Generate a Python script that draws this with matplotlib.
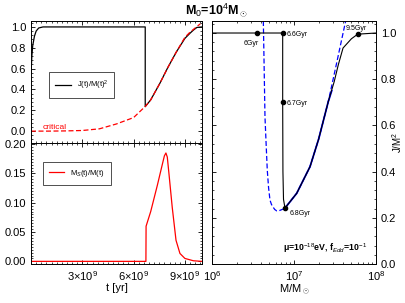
import numpy as np
import matplotlib
matplotlib.use('Agg')
import matplotlib.pyplot as plt
from matplotlib.ticker import AutoMinorLocator, FixedLocator, FixedFormatter, MultipleLocator

plt.rcParams['font.family'] = ['Liberation Sans', 'DejaVu Sans']
plt.rcParams['mathtext.fontset'] = 'custom'
plt.rcParams['mathtext.rm'] = 'Liberation Sans'
plt.rcParams['mathtext.it'] = 'Liberation Sans:italic'
plt.rcParams['mathtext.bf'] = 'Liberation Sans:bold'

# --- left top: J(t)/M(t)^2 and critical curve vs time (units of 1e9 yr)
t_J = [0, 0.05, 0.1, 0.2, 0.3, 0.45, 0.7, 6.68, 6.68, 7.0, 7.54, 8.0, 8.5, 9.0, 9.3, 9.5, 9.7, 10.0]
J_t = [0.55, 0.72, 0.82, 0.91, 0.96, 0.99, 1.0, 1.0, 0.235, 0.3, 0.46, 0.61, 0.76, 0.89, 0.94, 0.97, 0.995, 1.0]

t_crit = [0, 1, 2, 3, 4, 5, 6, 6.68, 7.0, 7.54, 8.0, 8.5, 9.0, 9.3, 9.6, 9.9]
J_crit = [0.0, 0.0, 0.002, 0.006, 0.022, 0.069, 0.13, 0.237, 0.3, 0.46, 0.61, 0.76, 0.9, 0.95, 0.99, 1.03]

# --- left bottom: Ms(t)/M(t)
t_Ms = [0, 6.72, 6.73, 7.0, 7.39, 7.7, 7.8, 7.89, 7.97, 8.07, 8.26, 8.48, 8.71, 9.0, 9.5, 10.0]
Ms = [0, 0, 0.06, 0.085, 0.13, 0.168, 0.18, 0.185, 0.178, 0.149, 0.092, 0.036, 0.0135, 0.005, 0.001, 0.0]

# --- right: trajectory in (M, J/M^2) plane, log10 of mass
logM_crit = [6.626, 6.636, 6.646, 6.660, 6.674, 6.690, 6.707, 6.725, 6.744, 6.765, 6.789,
             6.82, 6.862, 6.89, 7.033, 7.195, 7.30, 7.418, 7.52, 7.63]
Jc = [1.052, 0.85, 0.638, 0.52, 0.407, 0.33, 0.277, 0.258, 0.247, 0.236, 0.230,
      0.231, 0.237, 0.242, 0.306, 0.421, 0.54, 0.703, 0.87, 1.052]
logM_on = [6.89, 7.033, 7.195, 7.30, 7.418, 7.46]
J_on = [0.242, 0.306, 0.421, 0.54, 0.703, 0.75]

logM_traj = [6.0, 6.862, 6.862, 6.865, 6.872, 6.89, 7.033, 7.195, 7.30, 7.418, 7.49, 7.54,
             7.598, 7.70, 7.777, 8.0]
J_traj = [1.0, 1.0, 0.70, 0.40, 0.28, 0.242, 0.306, 0.421, 0.54, 0.703, 0.789, 0.862,
          0.935, 0.975, 0.995, 1.0]

mark_logM = [6.545, 6.862, 6.862, 6.89, 7.777]
mark_J = [1.0, 1.0, 0.70, 0.241, 0.995]
mark_lab = ['6Gyr', '6.6Gyr', '6.7Gyr', '6.8Gyr', '9.5Gyr']

fig = plt.figure(figsize=(4.05, 3.03), dpi=100)
ax1 = fig.add_axes([31/405, 1-143/303, 171/405, 122/303])
ax2 = fig.add_axes([31/405, 1-264/303, 171/405, 121/303])
ax3 = fig.add_axes([212/405, 1-264/303, 164/405, 243/303])

def style(ax):
    ax.tick_params(which='both', direction='in', top=True, right=True, labelsize=8)
    ax.tick_params(which='major', length=3, width=0.6)
    ax.tick_params(which='minor', length=1.5, width=0.5)
    for s in ax.spines.values():
        s.set_linewidth(0.7)

t1 = np.array(t_J) * 1e9
ax1.plot(t1, J_t, color='black', lw=0.9, label='J(t)/M(t)$^2$')
ax1.plot(np.array(t_crit) * 1e9, J_crit, color='red', lw=0.9, ls=(0, (4, 2)))
ax1.text(0.7e9, 0.02, 'critical', color='red', fontsize=6)
ax1.set_xlim(0, 1e10)
ax1.set_ylim(-0.114, 1.057)
ax1.yaxis.set_major_locator(MultipleLocator(0.2))
ax1.yaxis.set_minor_locator(AutoMinorLocator(5))
ax1.xaxis.set_major_locator(MultipleLocator(3e9))
ax1.xaxis.set_minor_locator(MultipleLocator(3e8))
ax1.set_xticklabels([])
style(ax1)
leg = ax1.legend(loc='upper left', bbox_to_anchor=(0.085, 0.61), fontsize=5.5, frameon=True,
                 fancybox=False, edgecolor='black', handlelength=2.0, borderpad=0.8)
leg.get_frame().set_linewidth(0.6)

ax2.plot(np.array(t_Ms) * 1e9, Ms, color='red', lw=0.9, label='M$_S$(t)/M(t)')
ax2.set_xlim(0, 1e10)
ax2.set_ylim(-0.0045, 0.202)
ax2.yaxis.set_major_locator(MultipleLocator(0.05))
ax2.yaxis.set_minor_locator(AutoMinorLocator(10))
ax2.xaxis.set_major_locator(FixedLocator([3e9, 6e9, 9e9]))
ax2.xaxis.set_major_formatter(FixedFormatter(['3×10$^9$', '6×10$^9$', '9×10$^9$']))
ax2.xaxis.set_minor_locator(MultipleLocator(3e8))
ax2.set_xlabel('t [yr]', fontsize=8, labelpad=0)
style(ax2)
leg2 = ax2.legend(loc='upper left', bbox_to_anchor=(0.045, 0.875), fontsize=5.5, frameon=True,
                  fancybox=False, edgecolor='black', handlelength=2.0, borderpad=0.8)
leg2.get_frame().set_linewidth(0.6)

M_c = 10 ** np.array(logM_crit)
ax3.plot(M_c, Jc, color='blue', lw=0.9, ls=(0, (4, 2)))
ax3.plot(10 ** np.array(logM_on), J_on, color='blue', lw=1.3)
ax3.plot(10 ** np.array(logM_traj), J_traj, color='black', lw=0.8)
mM = 10 ** np.array(mark_logM)
ax3.plot(mM, mark_J, 'o', color='black', ms=3)
offs = [(-9.5, -8.5), (3, -2), (3, -2), (3, -5), (-8.5, 2.7)]
for x, y, lab, o in zip(mM, mark_J, mark_lab, offs):
    ax3.annotate(lab, (x, y), xytext=o, textcoords='offset points', fontsize=5)
ax3.set_xscale('log')
ax3.set_xlim(1e6, 1e8)
ax3.set_ylim(0, 1.052)
ax3.yaxis.set_major_locator(MultipleLocator(0.2))
ax3.yaxis.set_minor_locator(AutoMinorLocator(5))
ax3.yaxis.tick_right()
ax3.yaxis.set_label_position('right')
ax3.set_ylabel('J/M$^2$', fontsize=7)
ax3.yaxis.set_label_coords(1.085, 0.5)
ax3.set_xlabel('M/M$_\\odot$', fontsize=8, labelpad=0)
style(ax3)
ax3.tick_params(axis='y', which='both', left=True, labelleft=False, labelright=True)
ax3.text(0.43, 0.055, '$\\mathbf{\\mu}$=10$^{-18}$eV, f$_{Edd}$=10$^{-1}$', transform=ax3.transAxes,
         fontsize=6.3, fontweight='bold')

fig.text(0.533, 0.967, 'M$_0$=10$^4$M$_\\odot$', ha='center', va='center', fontsize=9,
         fontweight='bold')

fig.savefig('out.png', dpi=100)
